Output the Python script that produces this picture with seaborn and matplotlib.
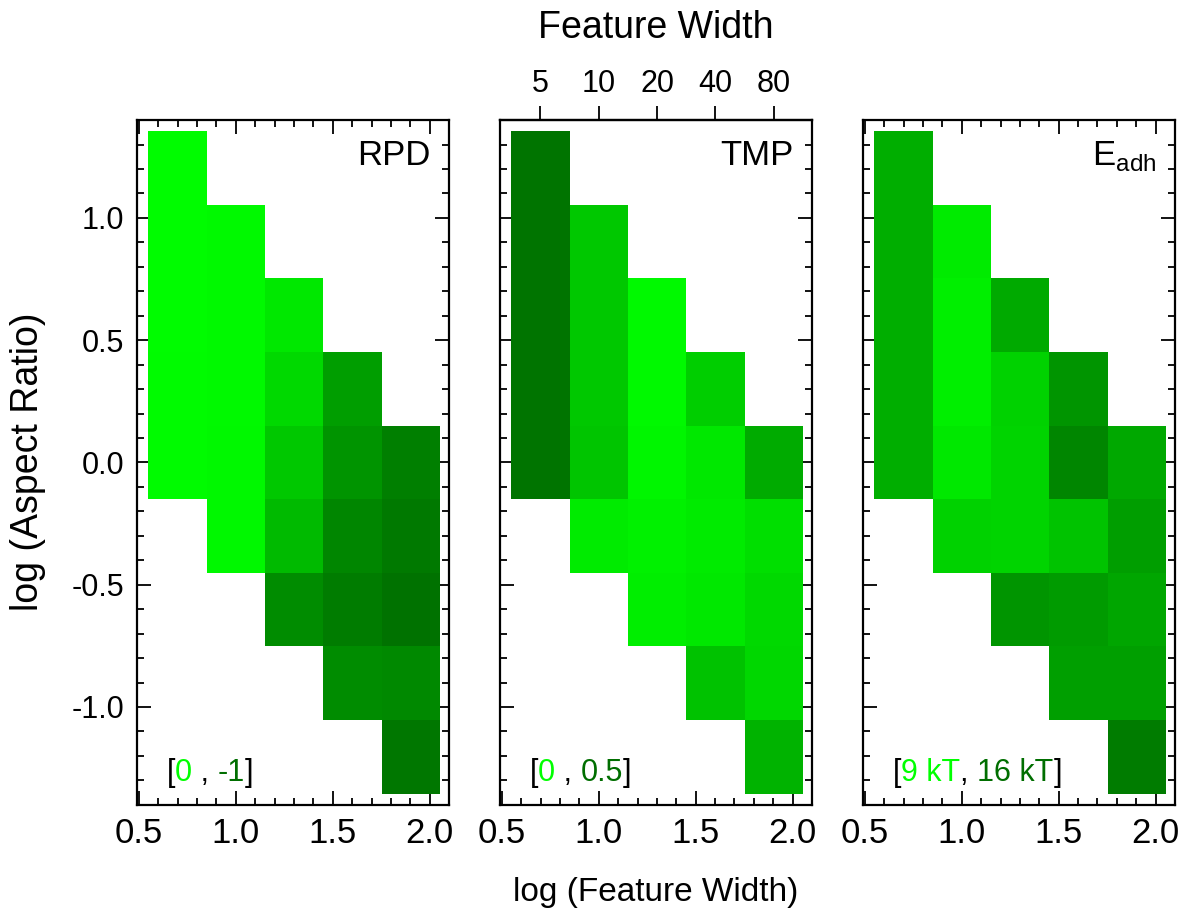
import numpy as np
import pandas as pd
import matplotlib
matplotlib.use("Agg")
import matplotlib.pyplot as plt
from matplotlib import font_manager
from matplotlib.colors import LinearSegmentedColormap
from matplotlib.ticker import NullLocator
import seaborn as sns

# columns: feature width, each column holds five cells with these heights (top first)
feature_width = [5, 10, 20, 40, 80]
feature_height = [80, 40, 20, 10, 5]

# values, one list per width, top cell first
rpd = [
    [-0.02, -0.02, -0.02, -0.03, -0.03],
    [-0.04, -0.04, -0.04, -0.05, -0.05],
    [-0.16, -0.26, -0.38, -0.48, -0.79],
    [-0.67, -0.74, -0.83, -0.90, -0.79],
    [-0.88, -0.92, -0.97, -0.81, -0.94],
]
tmp = [
    [0.48, 0.48, 0.48, 0.48, 0.48],
    [0.19, 0.19, 0.19, 0.20, 0.07],
    [0.02, 0.02, 0.03, 0.05, 0.06],
    [0.17, 0.08, 0.07, 0.08, 0.21],
    [0.29, 0.11, 0.13, 0.14, 0.26],
]
eadh = [
    [12.9, 12.9, 12.9, 12.9, 12.9],
    [10.0, 9.8, 9.8, 10.1, 11.2],
    [13.1, 11.2, 11.1, 11.1, 14.1],
    [14.1, 14.8, 11.9, 13.8, 13.6],
    [13.2, 13.7, 13.3, 13.6, 15.3],
]

panel_data = [rpd, tmp, eadh]
panel_names = ["RPD", "TMP", r"E$_\mathregular{adh}$"]
# colour scale ends: value drawn bright green, value drawn dark green
scale_ends = [(0, -1), (0, 0.5), (9, 16)]
scale_text = [("0", " , ", "-1"), ("0", " , ", "0.5"), ("9 kT", ", ", "16 kT")]

x_major = [0.5, 1.0, 1.5, 2.0]
y_major = [-1.0, -0.5, 0.0, 0.5, 1.0]

LIME = "#00ff00"
DARK = "#006e00"
green = LinearSegmentedColormap.from_list("lime_dark", [LIME, DARK])

sns.set_theme(style="ticks")
plt.rcParams["font.family"] = ["Liberation Sans", "DejaVu Sans"]
plt.rcParams["mathtext.fontset"] = "custom"
plt.rcParams["mathtext.rm"] = "Liberation Sans"
for key in ["text.color", "axes.labelcolor", "xtick.color", "ytick.color", "axes.edgecolor"]:
    plt.rcParams[key] = "black"
names = {f.name for f in font_manager.fontManager.ttflist}
narrow = "Liberation Sans Narrow" if "Liberation Sans Narrow" in names else "Liberation Sans"

step = np.log10(2)
x_left = np.log10(feature_width[0]) - step / 2
y_top = np.log10(feature_height[0] / feature_width[0]) + step / 2


def u(x):
    return (x - x_left) / step


def v(y):
    return (y_top - y) / step


def to_grid(vals):
    n_rows = len(feature_width) + len(feature_height) - 1
    grid = np.full((n_rows, len(feature_width)), np.nan)
    for j, w in enumerate(feature_width):
        for r, h in enumerate(feature_height):
            row = int(round(v(np.log10(h / w)) - 0.5))
            grid[row, j] = vals[j][r]
    return pd.DataFrame(grid, columns=feature_width)


fig, axes = plt.subplots(1, 3, figsize=(11.83, 9.24), dpi=100)
fig.subplots_adjust(left=0.1158, right=0.9932, bottom=0.129, top=0.870, wspace=0.163)

for i, ax in enumerate(axes):
    lime_val, dark_val = scale_ends[i]
    if lime_val < dark_val:
        cmap, vmin, vmax = green, lime_val, dark_val
    else:
        cmap, vmin, vmax = green.reversed(), dark_val, lime_val
    sns.heatmap(to_grid(panel_data[i]), ax=ax, cmap=cmap, vmin=vmin, vmax=vmax,
                cbar=False, xticklabels=False, yticklabels=False, linewidths=0)

    for s in ax.spines.values():
        s.set_visible(True)
        s.set_linewidth(1.6)
        s.set_color("black")

    ax.set_xlim(u(0.49), u(2.1))
    ax.set_ylim(v(-1.4), v(1.4))
    ax.set_xticks([u(t) for t in x_major], [f"{t:.1f}" for t in x_major],
                  fontfamily=narrow, fontsize=25)
    ax.set_xticks([u(t) for t in np.arange(0.5, 2.11, 0.1)], minor=True)
    ax.set_yticks([v(t) for t in y_major], [f"{t:.1f}" for t in y_major], fontsize=22)
    ax.set_yticks([v(t) for t in np.arange(-1.4, 1.41, 0.1)], minor=True)
    ax.set_xlabel("")
    ax.set_ylabel("")

    ax.tick_params(which="both", direction="in", top=(i != 1), right=True,
                   color="black", width=1.3)
    ax.tick_params(which="major", length=10)
    ax.tick_params(which="minor", length=5)
    ax.tick_params(axis="x", pad=9, labelrotation=0)
    ax.tick_params(axis="y", pad=9, labelleft=(i == 0), labelrotation=0)

    if i == 1:
        sec = ax.secondary_xaxis("top")
        sec.set_xticks([u(np.log10(w)) for w in feature_width],
                       [str(w) for w in feature_width], fontsize=22)
        sec.xaxis.set_minor_locator(NullLocator())
        sec.tick_params(direction="out", length=10, width=1.3, pad=5, color="black")
        sec.spines["top"].set_linewidth(1.6)

    ax.text(0.94, 0.972, panel_names[i], transform=ax.transAxes, ha="right", va="top",
            fontsize=25, color="black")

    lo, sep, hi = scale_text[i]
    pieces = [(lo, LIME), (sep, "black"), (hi, DARK), ("]", "black")]
    t = ax.text(0.095, 0.025, "[", transform=ax.transAxes, ha="left", va="bottom",
                fontsize=22, color="black")
    for piece, col in pieces:
        t = ax.annotate(piece, xy=(1, 0), xycoords=t, ha="left", va="bottom",
                        fontsize=22, color=col)

mid = (axes[1].get_position().x0 + axes[1].get_position().x1) / 2
fig.text(mid, 1 - 28 / 924, "Feature Width", ha="center", va="center", fontsize=27)
fig.text(mid, 1 - 893 / 924, "log (Feature Width)", ha="center", va="center",
         fontfamily=narrow, fontsize=24)
fig.text(0.024, 0.5, "log (Aspect Ratio)", rotation=90, ha="center", va="center",
         fontfamily=narrow, fontsize=27)

fig.savefig("out.png", dpi=100)
